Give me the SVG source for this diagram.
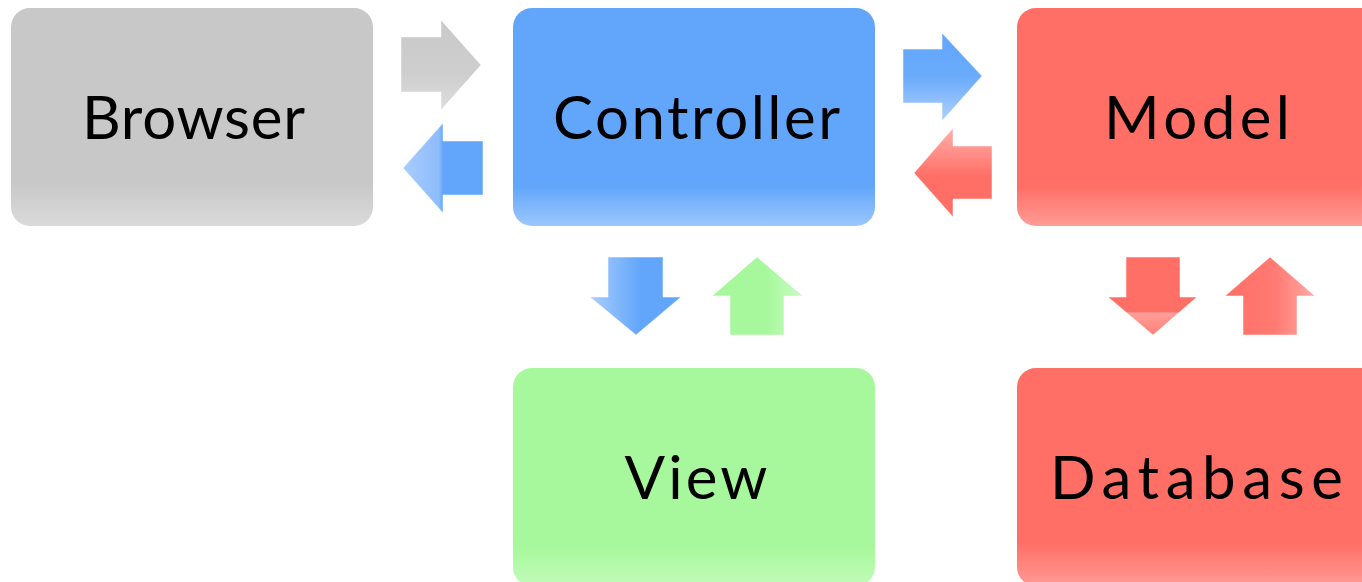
<svg xmlns="http://www.w3.org/2000/svg" width="1362" height="582" viewBox="0 0 1362 582">
<style>
.lbl{font-family:"Lato","Liberation Sans",sans-serif;font-size:60px;font-weight:400;fill:#000;text-anchor:middle}
.edge{stroke:#ffffff;stroke-opacity:0.5;stroke-width:1}
</style>
<defs>
<linearGradient id="gGray" x1="0" y1="0" x2="0" y2="1">
<stop offset="0" stop-color="#c8c8c8"/><stop offset="0.8" stop-color="#c8c8c8"/><stop offset="1" stop-color="#dadada"/></linearGradient>
<linearGradient id="gBlue" x1="0" y1="0" x2="0" y2="1">
<stop offset="0" stop-color="#62a6fb"/><stop offset="0.82" stop-color="#62a6fb"/><stop offset="1" stop-color="#9cc7fd"/></linearGradient>
<linearGradient id="gRed" x1="0" y1="0" x2="0" y2="1">
<stop offset="0" stop-color="#ff6f66"/><stop offset="0.82" stop-color="#ff6f66"/><stop offset="1" stop-color="#ff9c96"/></linearGradient>
<linearGradient id="gRedB" x1="0" y1="0" x2="0" y2="1">
<stop offset="0" stop-color="#ff6f66"/><stop offset="0.8" stop-color="#ff6f66"/><stop offset="1" stop-color="#ff9a94"/></linearGradient>
<linearGradient id="gGreen" x1="0" y1="0" x2="0" y2="1">
<stop offset="0" stop-color="#a7f89c"/><stop offset="0.82" stop-color="#a7f89c"/><stop offset="1" stop-color="#c2fbb9"/></linearGradient>
<linearGradient id="aGray" x1="0" y1="0" x2="0" y2="1">
<stop offset="0" stop-color="#c9c9c9"/><stop offset="0.6" stop-color="#cecece"/><stop offset="1" stop-color="#dedede"/></linearGradient>
<linearGradient id="aBlueL" x1="0" y1="0" x2="1" y2="0">
<stop offset="0" stop-color="#a9cdfd"/><stop offset="0.45" stop-color="#8dbcfc"/><stop offset="0.5" stop-color="#62a6fb"/><stop offset="1" stop-color="#62a6fb"/></linearGradient>
<linearGradient id="aBlueR" x1="0" y1="0" x2="0" y2="1">
<stop offset="0" stop-color="#62a6fb"/><stop offset="0.5" stop-color="#6aabfb"/><stop offset="1" stop-color="#b0d1fd"/></linearGradient>
<linearGradient id="aRedL" x1="0" y1="0" x2="0" y2="1">
<stop offset="0" stop-color="#ffb0ab"/><stop offset="0.55" stop-color="#ff6f66"/><stop offset="1" stop-color="#ff6f66"/></linearGradient>
<linearGradient id="aBlueD" x1="0" y1="0" x2="1" y2="0">
<stop offset="0" stop-color="#a9cdfd"/><stop offset="0.55" stop-color="#62a6fb"/><stop offset="1" stop-color="#62a6fb"/></linearGradient>
<linearGradient id="aGreenU" x1="0" y1="0" x2="1" y2="0">
<stop offset="0" stop-color="#a7f89c"/><stop offset="0.6" stop-color="#a7f89c"/><stop offset="1" stop-color="#cbfbc4"/></linearGradient>
<linearGradient id="aRedD" x1="0" y1="0" x2="0" y2="1">
<stop offset="0" stop-color="#ff6f66"/><stop offset="0.7" stop-color="#ff6f66"/><stop offset="0.72" stop-color="#ff9e98"/><stop offset="1" stop-color="#ff8078"/></linearGradient>
<linearGradient id="aRedU" x1="0" y1="0" x2="1" y2="0">
<stop offset="0" stop-color="#ff6f66"/><stop offset="0.55" stop-color="#ff7a72"/><stop offset="1" stop-color="#ffaaa5"/></linearGradient>
</defs>

<g id="connectors">
<polygon class="edge" fill="url(#aGray)" points="401,37 441,37 441,20 481,65 441,110 441,92 401,92"/>
<polygon class="edge" fill="url(#aBlueL)" points="483,141 443,141 443,123 403,168 443,213 443,195 483,195"/>
<polygon class="edge" fill="url(#aBlueR)" points="903,49 942,49 942,33 982,76 942,121 942,103 903,103"/>
<polygon class="edge" fill="url(#aRedL)" points="992,146 953,146 953,128 914,173 953,217 953,199 992,199"/>
<polygon class="edge" fill="url(#aBlueD)" points="608,257 663,257 663,297 681,297 636,335 590,297 608,297"/>
<polygon class="edge" fill="url(#aGreenU)" points="757,257 803,296 784,296 784,335 730,335 730,296 712,296"/>
<polygon class="edge" fill="url(#aRedD)" points="1126,257 1180,257 1180,297 1197,297 1153,335 1108,297 1126,297"/>
<polygon class="edge" fill="url(#aRedU)" points="1270,257 1315,296 1297,296 1297,335 1243,335 1243,296 1225,296"/>
</g>

<g id="browser">
<rect x="11" y="8" width="362" height="218" rx="19" fill="url(#gGray)"/>
<text class="lbl" x="193.5" y="139" textLength="223" lengthAdjust="spacing">Browser</text>
</g>
<g id="controller">
<rect x="513" y="8" width="362" height="218" rx="19" fill="url(#gBlue)"/>
<text class="lbl" x="696.5" y="139" textLength="287" lengthAdjust="spacing">Controller</text>
</g>
<g id="model">
<rect x="1017" y="8" width="362" height="218" rx="19" fill="url(#gRed)"/>
<text class="lbl" x="1197" y="139" textLength="186" lengthAdjust="spacing">Model</text>
</g>
<g id="view">
<rect x="513" y="368" width="362" height="218" rx="19" fill="url(#gGreen)"/>
<text class="lbl" x="696" y="499" textLength="143" lengthAdjust="spacing">View</text>
</g>
<g id="database">
<rect x="1017" y="368" width="362" height="218" rx="19" fill="url(#gRedB)"/>
<text class="lbl" x="1196.5" y="499" textLength="293" lengthAdjust="spacing">Database</text>
</g>
</svg>
